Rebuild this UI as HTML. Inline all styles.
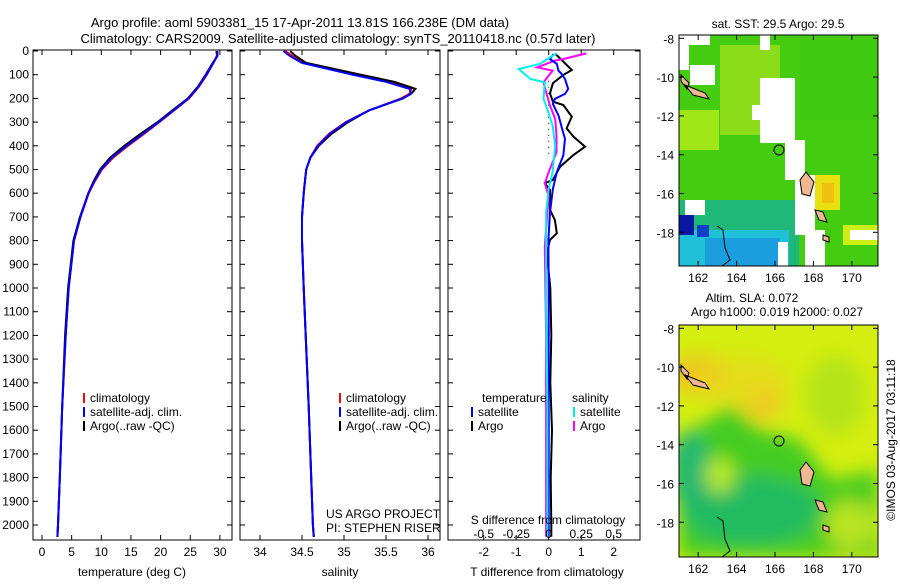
<!DOCTYPE html>
<html><head><meta charset="utf-8"><style>
body{margin:0;background:#fff;}
svg text{font-family:"Liberation Sans",sans-serif;fill:#000;}
</style></head><body>
<svg id="c" width="900" height="580" xmlns="http://www.w3.org/2000/svg">
<defs>
<filter id="bl" x="-50%" y="-50%" width="200%" height="200%"><feGaussianBlur stdDeviation="9"/></filter>
<clipPath id="m1c"><rect x="679" y="35" width="199" height="231"/></clipPath>
<clipPath id="m2c"><rect x="679" y="325" width="199" height="232"/></clipPath>
</defs>
<text x="300" y="27" font-size="13" text-anchor="middle">Argo profile: aoml 5903381_15 17-Apr-2011 13.81S 166.238E (DM data)</text>
<text x="338" y="43" font-size="13" text-anchor="middle">Climatology: CARS2009. Satellite-adjusted climatology: synTS_20110418.nc (0.57d later)</text>
<g id="p1"></g>
<g id="p2"></g>
<g id="p3"></g>

<g>
<text x="778" y="28" font-size="12" text-anchor="middle">sat. SST: 29.5 Argo: 29.5</text>
<g clip-path="url(#m1c)">
<rect x="679" y="35" width="199" height="231" fill="#44cc10"/>
<rect x="720" y="45" width="60" height="90" fill="#a8e41c" opacity="0.7"/>
<rect x="800" y="40" width="78" height="80" fill="#3cc810" opacity="0.6"/>
<rect x="679" y="110" width="40" height="40" fill="#b8ec1a" opacity="0.8"/>
<rect x="815" y="175" width="25" height="35" fill="#e8e010"/>
<rect x="822" y="183" width="12" height="20" fill="#f0c010"/>
<rect x="843" y="225" width="35" height="20" fill="#ccee14"/>
<rect x="679" y="200" width="120" height="66" fill="#20b878"/>
<rect x="679" y="230" width="110" height="36" fill="#20c0d8"/>
<rect x="705" y="238" width="75" height="28" fill="#1a90e0" opacity="0.7"/>
<rect x="679" y="215" width="15" height="20" fill="#0818a0"/>
<rect x="697" y="225" width="12" height="12" fill="#1040c8"/>
<rect x="680" y="35" width="30" height="10" fill="#fff"/>
<rect x="679" y="35" width="10" height="35" fill="#fff"/>
<rect x="690" y="65" width="25" height="20" fill="#fff"/>
<rect x="760" y="35" width="10" height="15" fill="#fff"/>
<rect x="760" y="78" width="35" height="65" fill="#fff"/>
<rect x="752" y="105" width="15" height="15" fill="#fff"/>
<rect x="785" y="140" width="20" height="40" fill="#fff"/>
<rect x="795" y="175" width="20" height="60" fill="#fff"/>
<rect x="805" y="230" width="20" height="36" fill="#fff"/>
<rect x="685" y="200" width="20" height="15" fill="#fff"/>
<rect x="850" y="230" width="28" height="10" fill="#fff"/>
<rect x="778" y="242" width="10" height="24" fill="#fff"/>
<path d="M681,75 l8,8 l-2,6 l-6,-8z M685,85 l20,8 l4,6 l-16,-4z M800,180 l6,-8 l8,10 l-4,14 l-8,-2z M815,210 l8,2 l4,10 l-8,-2z M823,235 l6,2 l0,5 l-6,-2z" fill="#f0b890" stroke="#000" stroke-width="1"/>
<path d="M717,226 l6,4 l2,18 l5,12 l-8,6" fill="none" stroke="#000"/>
</g>
<rect x="679" y="35" width="199" height="231" fill="none" stroke="#000"/>
<circle cx="779" cy="150" r="5" fill="none" stroke="#000"/>
</g>

<g>
<text x="752" y="302" font-size="12" text-anchor="middle">Altim. SLA: 0.072</text>
<text x="777" y="316" font-size="12" text-anchor="middle">Argo h1000: 0.019 h2000: 0.027</text>
<g clip-path="url(#m2c)">
<rect x="679" y="325" width="199" height="232" fill="#d4ee10"/>
<g filter="url(#bl)">
<ellipse cx="700" cy="375" rx="30" ry="20" fill="#f0c020"/>
<ellipse cx="762" cy="400" rx="22" ry="20" fill="#f0c828"/>
<ellipse cx="740" cy="380" rx="50" ry="25" fill="#e8d818" opacity="0.7"/>
<ellipse cx="850" cy="545" rx="20" ry="15" fill="#f0d020"/>
<ellipse cx="835" cy="395" rx="30" ry="40" fill="#a8e020" opacity="0.7"/>
<path d="M679,450 L700,425 L730,405 L760,430 L800,440 L830,480 L878,470 L878,557 L679,557 Z" fill="#44cc20"/>
<ellipse cx="750" cy="510" rx="70" ry="35" fill="#20bb60"/>
<ellipse cx="690" cy="470" rx="20" ry="40" fill="#20b870"/>
<ellipse cx="720" cy="475" rx="15" ry="18" fill="#b8e828"/>
<ellipse cx="850" cy="525" rx="25" ry="25" fill="#b8e420"/>
</g>
<path d="M681,365 l8,8 l-2,6 l-6,-8z M685,375 l20,8 l4,6 l-16,-4z M800,470 l6,-8 l8,10 l-4,14 l-8,-2z M815,500 l8,2 l4,10 l-8,-2z M823,525 l6,2 l0,5 l-6,-2z" fill="#f0b890" stroke="#000" stroke-width="1"/>
<path d="M717,517 l6,4 l2,18 l5,12 l-8,6" fill="none" stroke="#000"/>
</g>
<rect x="679" y="325" width="199" height="232" fill="none" stroke="#000"/>
<circle cx="779" cy="441" r="5" fill="none" stroke="#000"/>
</g>
<text transform="translate(895,440) rotate(-90)" font-size="12" text-anchor="middle">©IMOS 03-Aug-2017 03:11:18</text>
</svg>
<script>
// ---- data ----
const depthT = [0,20,50,100,150,200,250,300,350,400,450,500,550,600,700,800,1000,1200,1500,1800,2000,2050];
const tempArgo = [29.5,29.6,28.8,27.6,26.3,24.6,22.0,19.5,16.6,13.9,11.5,9.8,8.7,7.8,6.4,5.3,4.4,3.9,3.4,3.0,2.7,2.6];
const tempClim = [29.4,29.5,28.9,27.8,26.5,24.8,22.3,19.8,17.2,14.5,12.0,10.1,8.9,7.9,6.5,5.4,4.5,4.0,3.4,3.0,2.7,2.6];
const tempSat  = [29.6,29.6,28.9,27.7,26.4,24.7,22.2,19.7,17.0,14.3,11.8,10.0,8.8,7.8,6.5,5.4,4.5,4.0,3.4,3.0,2.7,2.6];
const depthS = [0,20,50,100,130,160,180,200,250,300,350,400,450,500,600,700,800,1000,1500,2000,2050];
const salArgo = [34.36,34.42,34.55,35.2,35.6,35.85,35.8,35.7,35.3,35.05,34.85,34.7,34.6,34.55,34.52,34.5,34.5,34.52,34.58,34.63,34.64];
const salClim = [34.3,34.38,34.52,35.15,35.55,35.8,35.78,35.68,35.3,35.02,34.82,34.68,34.6,34.55,34.52,34.5,34.5,34.52,34.58,34.63,34.64];
const salSat  = [34.28,34.35,34.5,35.1,35.5,35.78,35.8,35.7,35.3,35.03,34.83,34.69,34.6,34.55,34.52,34.5,34.5,34.52,34.58,34.63,34.64];
const dTArgoDepth = [10,80,101,136,179,214,228,277,326,361,404,439,488,544,558,586,671,713,769,797,854,1000,1200,1400,1600,1800,2000,2050];
const dTArgo = [0.19,0.71,0.45,0.13,0.04,0.13,0.45,0.71,0.55,0.76,1.12,0.76,0.35,0.13,-0.12,0.04,0.04,0.19,0.25,0.04,-0.06,0.05,0.08,0.05,0.1,0.06,0.08,0.08];
const dTSatDepth = [13,34,55,83,97,118,160,181,202,223,272,322,371,441,511,582,681,797,1000,1500,2050];
const dTSat = [0.15,0.04,0.25,0.3,0.4,0.5,0.6,0.5,0.19,0.13,0.3,0.4,0.5,0.45,0.25,0.13,0.04,-0.01,0,0,0];
const dSArgoDepth = [10,34,40,69,83,104,132,174,230,287,357,427,511,558,614,681,825,1200,1600,2050];
const dSArgo = [0.29,0.11,0.05,-0.09,0.03,0,-0.04,-0.02,0.01,0.05,0.06,0.06,0,-0.03,0,-0.01,-0.03,-0.02,-0.02,-0.02];
const dSSatDepth = [10,55,76,118,132,202,230,315,399,511,582,681,1076,1500,2050];
const dSSat = [0.06,-0.07,-0.23,-0.14,-0.03,-0.04,-0.02,0.03,0.05,0.03,0,-0.02,-0.02,-0.01,-0.01];
const depthTicks = [0,100,200,300,400,500,600,700,800,900,1000,1100,1200,1300,1400,1500,1600,1700,1800,1900,2000];
const tempTicks = [0,5,10,15,20,25,30];
const salTicks = [34,34.5,35,35.5,36];
const salTickLabels = ['34','34.5','35','35.5','36'];
const dTTicks = [-2,-1,0,1,2];
const dSTicks = [-0.5,-0.25,0,0.25,0.5];
const dSTickLabels = ['-0.5','-0.25','0','0.25','0.5'];
const latTicks = [-8,-10,-12,-14,-16,-18];
const lonTicks = [162,164,166,168,170];

const NS='http://www.w3.org/2000/svg';
function mk(parent,tag,attrs){const e=document.createElementNS(NS,tag);for(const k in attrs)e.setAttribute(k,attrs[k]);parent.appendChild(e);return e;}
const yD = d => 51 + d*0.237;
const xT = t => 42 + t*5.93;
const xS = s => 260 + (s-34)*84;
const xDT = t => 548.7 + t*32.5;
const xDS = s => 548.7 + s*130;
const Y0=50, Y1=540;

function frame(g,x0,x1,ticksX,xf,labels,showDepth){
  const r=mk(g,'rect',{x:x0,y:Y0,width:x1-x0,height:Y1-Y0,fill:'none',stroke:'#000'});
  
  
  depthTicks.forEach(d=>{
    mk(g,'line',{x1:x0,x2:x0+5,y1:yD(d),y2:yD(d),stroke:'#000'});
    mk(g,'line',{x1:x1,x2:x1-5,y1:yD(d),y2:yD(d),stroke:'#000'});
    if(showDepth){const t=mk(g,'text',{x:x0-4,y:yD(d)+4,'font-size':12,'text-anchor':'end'});t.textContent=d;
      
      }
  });
  ticksX.forEach((v,i)=>{
    const x=xf(v);
    mk(g,'line',{x1:x,x2:x,y1:Y1,y2:Y1-5,stroke:'#000'});
    mk(g,'line',{x1:x,x2:x,y1:Y0,y2:Y0+5,stroke:'#000'});
    const t=mk(g,'text',{x:x,y:Y1+16,'font-size':12,'text-anchor':'middle'});t.textContent=labels?labels[i]:v;
    
    
  });
}
function line(g,xs,ds,xf,col,w,name){
  const p=xs.map((v,i)=>(i?'L':'M')+xf(v).toFixed(1)+','+yD(ds[i]).toFixed(1)).join('');
  const e=mk(g,'path',{d:p,fill:'none',stroke:col,'stroke-width':w});
  
  
}
function txt(g,x,y,s,name,anchor){const t=mk(g,'text',{x:x,y:y,'font-size':12,'text-anchor':anchor||'start'});t.textContent=s;
  
  }
function legend(g,x,y,items,name){
  items.forEach((it,i)=>{
    mk(g,'line',{x1:x,x2:x,y1:y+i*14-9,y2:y+i*14+1,stroke:it[0],'stroke-width':2});
    txt(g,x+6,y+i*14,it[1],name);
  });
}
// panel 1
const p1=document.getElementById('p1');
frame(p1,33,232,tempTicks,xT,null,true);
line(p1,tempClim,depthT,xT,'#f00',2,'temp-climatology-line');
line(p1,tempArgo,depthT,xT,'#000',2,'temp-argo-line');
line(p1,tempSat,depthT,xT,'#00f',2,'temp-satellite-line');
txt(p1,132,576,'temperature (deg C)','x-axis-title','middle');
legend(p1,84,402,[['#f00','climatology'],['#00f','satellite-adj. clim.'],['#000','Argo(..raw -QC)']],'legend-entry');
// panel 2
const p2=document.getElementById('p2');
frame(p2,240,440,salTicks,xS,salTickLabels,false);
line(p2,salClim,depthS,xS,'#f00',2,'sal-climatology-line');
line(p2,salArgo,depthS,xS,'#000',2,'sal-argo-line');
line(p2,salSat,depthS,xS,'#00f',2,'sal-satellite-line');
txt(p2,340,576,'salinity','x-axis-title','middle');
legend(p2,340,402,[['#f00','climatology'],['#00f','satellite-adj. clim.'],['#000','Argo(..raw -QC)']],'legend-entry');
txt(p2,326,518,'US ARGO PROJECT','project-label');
txt(p2,326,532,'PI: STEPHEN RISER','pi-label');
// panel 3
const p3=document.getElementById('p3');
frame(p3,448,640,dTTicks,xDT,null,false);
mk(p3,'line',{x1:548.7,x2:548.7,y1:yD(100),y2:yD(450),stroke:'#000','stroke-dasharray':'1,5'});
line(p3,dTArgo,dTArgoDepth,xDT,'#000',2,'dT-argo-line');
line(p3,dSArgo,dSArgoDepth,xDS,'#f0f',2,'dS-argo-line');
line(p3,dTSat,dTSatDepth,xDT,'#00f',2,'dT-satellite-line');
line(p3,dSSat,dSSatDepth,xDS,'#0ee',2,'dS-satellite-line');
txt(p3,547,576,'T difference from climatology','x-axis-title','middle');
txt(p3,548,524,'S difference from climatology','s-axis-title','middle');
dSTicks.forEach((v,i)=>txt(p3,xDS(v),538,dSTickLabels[i],'s-tick-label','middle'));
txt(p3,482,402,'temperature','legend-header');
txt(p3,572,402,'salinity','legend-header');
legend(p3,472,416,[['#00f','satellite'],['#000','Argo']],'legend-entry');
legend(p3,574,416,[['#0ee','satellite'],['#f0f','Argo']],'legend-entry');
// map axes
function mapAxes(top,bottom,latAt8){
  const g=document.getElementById('c');
  latTicks.forEach(l=>{const y=latAt8+(-8-l)*19.4;
    mk(g,'line',{x1:679,x2:684,y1:y,y2:y,stroke:'#000'});mk(g,'line',{x1:878,x2:873,y1:y,y2:y,stroke:'#000'});
    txt(g,674,y+5,String(l),'lat-tick-label','end');});
  lonTicks.forEach(l=>{const x=679+(l-161)*19.2;
    mk(g,'line',{x1:x,x2:x,y1:top,y2:top+5,stroke:'#000'});mk(g,'line',{x1:x,x2:x,y1:bottom,y2:bottom-5,stroke:'#000'});
    txt(g,x,bottom+16,String(l),'lon-tick-label','middle');});
}
mapAxes(35,266,38.3);
mapAxes(325,557,328.3);
</script>
</body></html>
